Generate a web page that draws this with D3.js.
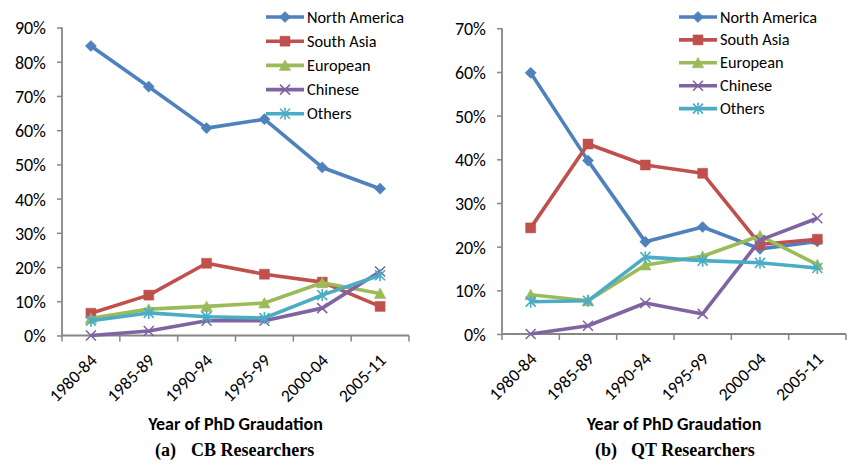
<!DOCTYPE html>
<html>
<head>
<meta charset="utf-8">
<script src="https://cdn.jsdelivr.net/npm/d3@7"></script>
<style>
  html, body { margin: 0; padding: 0; background: #fff; }
  svg { display: block; }
  .y-label { font-family: Carlito, Calibri, Lato, sans-serif; font-size: 18px; fill: #000; }
  .x-label { font-family: Carlito, Calibri, Lato, sans-serif; font-size: 17.5px; fill: #000; }
  .legend-label { font-family: Carlito, Calibri, Lato, sans-serif; font-size: 16.3px; fill: #000; }
  .axis-title { font-family: Carlito, Calibri, Lato, sans-serif; font-size: 18px; font-weight: bold; fill: #000; }
  .caption { font-family: "Liberation Serif", "Times New Roman", serif; font-size: 18px; font-weight: bold; fill: #000; }
</style>
</head>
<body>
<svg id="chart" width="848" height="465"></svg>
<script>
// Periods of PhD graduation
const categories = ["1980-84", "1985-89", "1990-94", "1995-99", "2000-04", "2005-11"];
const seriesNames = ["North America", "South Asia", "European", "Chinese", "Others"];

// (a) CB researchers, share by origin (%)
const cbNorthAmerica = [84.6, 72.7, 60.6, 63.2, 49.1, 42.9];
const cbSouthAsia    = [6.5, 11.8, 21.1, 17.9, 15.6, 8.5];
const cbEuropean     = [5.0, 7.7, 8.5, 9.5, 15.4, 12.3];
const cbChinese      = [0.0, 1.3, 4.3, 4.3, 8.0, 18.7];
const cbOthers       = [4.3, 6.6, 5.5, 5.1, 11.8, 17.6];

// (b) QT researchers, share by origin (%)
const qtNorthAmerica = [59.8, 39.7, 21.1, 24.5, 19.5, 21.2];
const qtSouthAsia    = [24.3, 43.5, 38.7, 36.8, 20.5, 21.7];
const qtEuropean     = [9.0, 7.6, 15.8, 17.8, 22.5, 15.9];
const qtChinese      = [0.0, 1.9, 7.1, 4.6, 21.5, 26.5];
const qtOthers       = [7.4, 7.6, 17.6, 16.8, 16.3, 15.1];

// Y axis tick values (%)
const cbTicks = [0, 10, 20, 30, 40, 50, 60, 70, 80, 90];
const qtTicks = [0, 10, 20, 30, 40, 50, 60, 70];

const xTitle = "Year of PhD Graudation";
const colors = ["#4F81BD", "#C0504D", "#9BBB59", "#8064A2", "#4BACC6"];
const markerKinds = ["diamond", "square", "triangle", "cross", "star"];
const axisColor = "#868686";

const svg = d3.select("#chart");

function markerPath(kind) {
  switch (kind) {
    case "diamond": return "M0,-5.6L5.6,0L0,5.6L-5.6,0Z";
    case "square": return "M-5,-5H5V5H-5Z";
    case "triangle": return "M0,-5.5L5.8,5L-5.8,5Z";
    case "cross": return "M-5,-5L5,5M-5,5L5,-5";
    case "star": return "M-5,-5L5,5M-5,5L5,-5M0,-6L0,6";
  }
}

function drawMarker(g, kind, color, x, y) {
  const filled = kind === "diamond" || kind === "square" || kind === "triangle";
  g.append("path")
    .attr("transform", `translate(${x},${y})`)
    .attr("d", markerPath(kind))
    .attr("fill", filled ? color : "none")
    .attr("stroke", color)
    .attr("stroke-width", filled ? 0.5 : 1.6);
}

function drawPanel(cfg) {
  const g = svg.append("g");
  const x = d3.scaleBand().domain(categories).range([cfg.x0, cfg.x1]).paddingInner(0).paddingOuter(0);
  const y = d3.scaleLinear().domain([0, cfg.ymax]).range([cfg.yBottom, cfg.yTop]);

  // Y axis
  const yAxis = d3.axisLeft(y).tickValues(cfg.ticks).tickSize(5).tickPadding(11)
    .tickFormat(d => d + "%");
  const ya = g.append("g").attr("transform", `translate(${cfg.x0},0)`).call(yAxis);
  ya.select(".domain").attr("stroke", axisColor).attr("stroke-width", 1.8)
    .attr("d", `M0,${cfg.yBottom}V${cfg.yTop}`);
  ya.selectAll(".tick line").attr("stroke", axisColor).attr("stroke-width", 1.5);
  ya.selectAll(".tick text").attr("class", "y-label").attr("dy", "0.36em");

  // X axis with tick marks on band boundaries
  const xa = g.append("g").attr("transform", `translate(0,${cfg.yBottom})`);
  xa.append("line").attr("x1", cfg.x0).attr("x2", cfg.x1)
    .attr("stroke", axisColor).attr("stroke-width", 1.8);
  const bounds = categories.map(c => x(c)).concat([cfg.x1]);
  xa.selectAll("line.tk").data(bounds).join("line").attr("class", "tk")
    .attr("x1", d => d).attr("x2", d => d).attr("y1", 0).attr("y2", 6)
    .attr("stroke", axisColor).attr("stroke-width", 1.5);
  xa.selectAll("text").data(categories).join("text")
    .attr("class", "x-label")
    .attr("text-anchor", "end")
    .attr("transform", d => `translate(${x(d) + x.bandwidth() / 2 + 7},${26}) rotate(-45)`)
    .text(d => d);

  // Axis title and caption
  g.append("text").attr("class", "axis-title").attr("text-anchor", "middle")
    .attr("x", (cfg.x0 + cfg.x1) / 2).attr("y", 430).text(xTitle);
  const cap = g.append("text").attr("class", "caption").attr("y", 456);
  cap.append("tspan").attr("x", cfg.capX).text(cfg.capTag);
  cap.append("tspan").attr("x", cfg.capX + 36).text(cfg.capText);

  // Series lines and markers
  const line = d3.line().x((d, i) => x(categories[i]) + x.bandwidth() / 2).y(d => y(d));
  cfg.series.forEach((vals, si) => {
    const sg = g.append("g");
    sg.append("path").attr("d", line(vals)).attr("fill", "none")
      .attr("stroke", colors[si]).attr("stroke-width", 3.6).attr("stroke-linejoin", "round");
    vals.forEach((v, i) => drawMarker(sg, markerKinds[si], colors[si],
      x(categories[i]) + x.bandwidth() / 2, y(v)));
  });

  // Legend
  const lg = g.append("g");
  seriesNames.forEach((name, si) => {
    const ly = cfg.legY + si * cfg.legStep;
    lg.append("line").attr("x1", cfg.legX).attr("x2", cfg.legX + 38)
      .attr("y1", ly).attr("y2", ly).attr("stroke", colors[si]).attr("stroke-width", 3.6);
    drawMarker(lg, markerKinds[si], colors[si], cfg.legX + 19, ly);
    lg.append("text").attr("class", "legend-label").attr("x", cfg.legX + 41).attr("y", ly + 5.5).text(name);
  });
}

drawPanel({
  x0: 62, x1: 409, yTop: 27.5, yBottom: 335.5, ymax: 90, ticks: cbTicks,
  series: [cbNorthAmerica, cbSouthAsia, cbEuropean, cbChinese, cbOthers],
  legX: 266, legY: 17, legStep: 24.2,
  capX: 155, capTag: "(a)", capText: "CB Researchers"
});

drawPanel({
  x0: 502, x1: 846, yTop: 28.3, yBottom: 334, ymax: 70, ticks: qtTicks,
  series: [qtNorthAmerica, qtSouthAsia, qtEuropean, qtChinese, qtOthers],
  legX: 679, legY: 17, legStep: 22.9,
  capX: 595, capTag: "(b)", capText: "QT Researchers"
});
</script>
</body>
</html>
